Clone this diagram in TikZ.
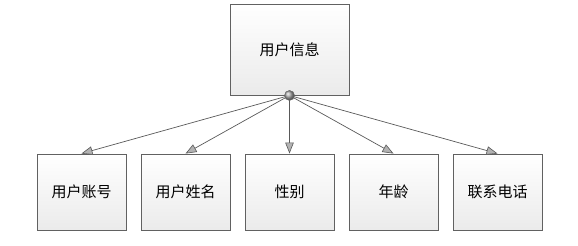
\documentclass[tikz,border=0pt]{standalone}
\usepackage{fontspec}
\newfontfamily\cjk{Noto Sans CJK SC}
\usetikzlibrary{arrows.meta,shadows}
\begin{document}
\begin{tikzpicture}[x=1pt,y=-1pt,
  entbox/.style={draw=black!62,line width=0.9pt,top color=white,bottom color=black!8,
    minimum width=89pt,minimum height=76pt,inner sep=0pt,
    font=\cjk\fontsize{15pt}{17pt}\selectfont,
    drop shadow={shadow xshift=1.2pt,shadow yshift=-1.2pt,fill=black!35,opacity=0.6}},
  topbox/.style={entbox,minimum width=119pt,minimum height=91pt},
  link/.style={draw=black!65,line width=0.7pt,
    -{Triangle[length=11pt,width=8.5pt,fill=black!30,line width=0.6pt]}},
  hub/.style={circle,minimum size=10pt,inner sep=0pt,draw=black!60,line width=0.5pt,
    ball color=black!35}
]
\useasboundingbox (0,0) rectangle (578,246);
\node[topbox] (top) at (289.5,49.5) {用户信息};
\node[entbox] (b1) at (81.5,192) {用户账号};
\node[entbox] (b2) at (185.5,192) {用户姓名};
\node[entbox] (b3) at (289.5,192) {性别};
\node[entbox] (b4) at (393.5,192) {年龄};
\node[entbox] (b5) at (497.5,192) {联系电话};
\coordinate (c) at (top.south);
\foreach \b in {b1,b2,b3,b4,b5}{
  \draw[link] (c) -- (\b.north);
}
\node[hub] (h) at (top.south) {};
\end{tikzpicture}
\end{document}
